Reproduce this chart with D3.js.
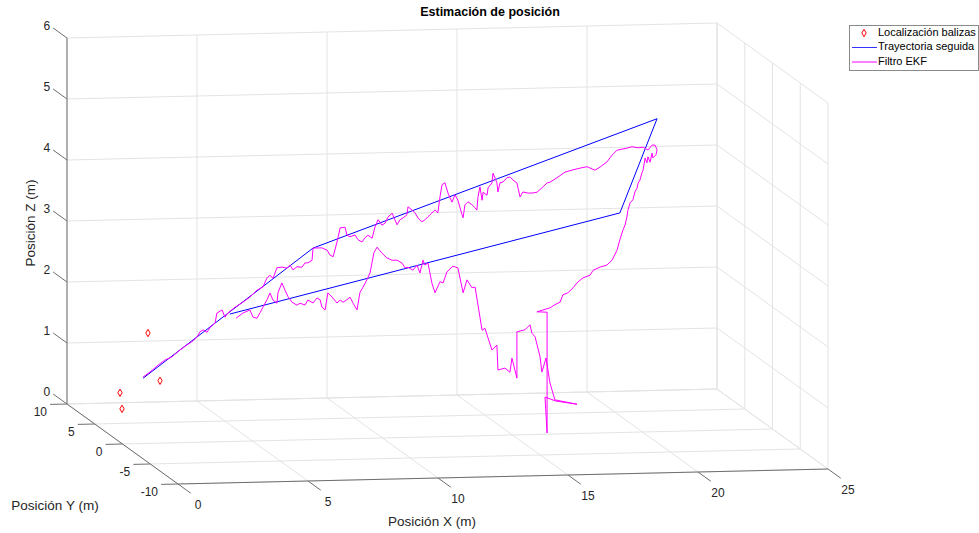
<!DOCTYPE html>
<html lang="es">
<head>
<meta charset="UTF-8">
<title>Estimación de posición</title>
<script src="https://d3js.org/d3.v7.min.js"></script>
<style>
  html, body { margin: 0; padding: 0; background: #fff; }
  #chart svg { display: block; font-family: "Liberation Sans", Arial, Helvetica, sans-serif; }
</style>
</head>
<body>
<div id="chart"></div>
<script>
// ticks of the three axes
var xTicks = [0, 5, 10, 15, 20, 25];
var yTicks = [-10, -5, 0, 5, 10];
var zTicks = [0, 1, 2, 3, 4, 5, 6];

// beacon positions (m)
var beaconX = [0, 0, 0, 0];
var beaconY = [-4.59, -6.76, 0.45, 0.09];
var beaconZ = [2.12, 1.48, 0.81, 0.57];

// followed trajectory (m)
var trajX = [0.79, 7.33, 20.56, 19.13, 4.13];
var trajY = [0, 0, 0, 0, 0];
var trajZ = [1.07, 3.14, 5.13, 3.60, 2.09];

// EKF estimate (m), y taken in the plane of the trajectory
var ekfPlaneY = 0;
var ekfX = [0.79,1.06,1.37,1.63,1.90,2.21,2.48,2.67,2.87,2.98,
  3.10,3.25,3.37,3.56,3.63,3.83,3.94,4.06,4.33,4.60,
  4.90,5.17,5.40,5.56,5.67,5.79,5.94,6.13,6.33,6.44,
  6.56,6.71,6.90,7.02,7.13,7.29,7.33,7.48,7.67,7.87,
  7.98,8.10,8.17,8.25,8.37,8.56,8.63,8.75,8.94,9.06,
  9.21,9.33,9.44,9.60,9.71,9.83,9.98,10.10,10.21,10.37,
  10.40,10.56,10.67,10.79,10.94,10.98,11.13,11.25,11.37,11.52,
  11.63,11.75,11.90,12.02,12.13,12.21,12.29,12.40,12.52,12.67,
  12.79,12.90,13.06,13.10,13.17,13.29,13.44,13.56,13.63,13.67,
  13.75,13.83,13.87,14.02,14.06,14.21,14.25,14.40,14.44,14.52,
  14.63,14.79,14.90,15.02,15.17,15.29,15.40,15.60,15.79,15.94,
  16.13,16.33,16.44,16.71,17.02,17.29,17.60,17.87,18.17,18.37,
  18.63,18.83,19.02,19.40,19.60,19.83,20.02,20.21,20.37,20.48,
  20.56,20.52,20.40,20.37,20.29,20.21,20.17,20.10,20.02,19.98,
  19.90,19.83,19.79,19.71,19.63,19.52,19.44,19.40,19.33,19.25,
  19.13,19.02,18.83,18.63,18.37,18.10,17.98,17.71,17.48,17.33,
  17.13,16.94,16.83,16.63,16.44,15.94,16.33,16.33,16.25,16.67,
  17.48,16.63,16.44,16.29,16.13,16.06,15.87,15.75,15.67,15.48,
  15.17,15.17,14.98,14.90,14.71,14.44,14.40,14.21,13.94,13.83,
  13.56,13.44,13.25,13.10,12.90,12.71,12.48,12.33,12.21,12.02,
  11.90,11.75,11.63,11.56,11.44,11.33,11.17,10.98,10.87,10.75,
  10.56,10.37,10.17,9.98,9.79,9.67,9.52,9.40,9.25,9.13,
  9.02,8.87,8.75,8.63,8.48,8.37,8.25,8.06,7.90,7.79,
  7.67,7.60,7.48,7.33,7.13,7.02,6.83,6.71,6.52,6.37,
  6.25,6.13,5.98,5.94,5.79,5.67,5.56,5.40,5.29,5.17,
  5.02,4.90,4.63,4.37];
var ekfZ = [1.09,1.17,1.28,1.36,1.41,1.52,1.60,1.65,1.73,1.81,
  1.84,1.80,1.88,1.95,2.11,2.16,2.04,2.11,2.20,2.27,
  2.36,2.47,2.52,2.67,2.71,2.66,2.83,2.84,2.82,2.87,
  2.79,2.84,2.83,2.90,2.90,2.94,3.14,3.14,3.14,3.10,
  3.02,2.99,3.10,3.23,3.46,3.47,3.34,3.31,3.34,3.26,
  3.22,3.29,3.33,3.28,3.46,3.58,3.49,3.52,3.62,3.68,
  3.65,3.49,3.57,3.60,3.65,3.78,3.73,3.68,3.59,3.53,
  3.56,3.61,3.67,3.72,3.67,3.93,4.13,4.16,3.99,3.84,
  3.96,3.87,3.63,3.58,3.79,3.84,3.79,3.74,3.70,3.91,
  4.08,3.86,3.99,3.94,4.06,4.14,4.30,4.14,3.99,4.14,
  4.15,4.22,4.23,4.18,4.13,3.90,3.98,3.96,3.96,3.97,
  4.04,4.12,4.13,4.20,4.29,4.32,4.35,4.37,4.31,4.36,
  4.44,4.55,4.63,4.66,4.68,4.66,4.67,4.62,4.70,4.70,
  4.62,4.54,4.49,4.57,4.42,4.51,4.41,4.49,4.29,4.25,
  4.13,4.08,4.00,3.94,3.81,3.76,3.64,3.53,3.40,3.32,
  3.16,2.99,2.83,2.75,2.72,2.67,2.59,2.55,2.47,2.39,
  2.31,2.28,2.16,2.12,2.07,2.01,2.00,0.02,0.61,0.54,
  0.48,0.56,0.84,1.25,1.02,1.27,1.60,1.66,1.80,1.72,
  1.69,0.93,1.26,1.03,1.10,1.07,1.48,1.40,1.76,1.73,
  2.44,2.43,2.56,2.35,2.76,2.79,2.70,2.52,2.54,2.36,
  2.52,2.85,2.82,2.90,2.69,2.82,2.74,2.79,2.78,2.86,
  2.91,2.91,2.95,3.03,3.13,3.04,2.71,2.60,2.48,2.39,
  2.11,2.22,2.32,2.28,2.24,2.28,2.23,2.33,2.40,2.12,
  2.17,2.29,2.32,2.24,2.29,2.21,2.24,2.21,2.26,2.35,
  2.46,2.58,2.42,2.25,2.30,2.42,2.31,2.19,2.10,2.01,
  2.03,2.15,2.10,2.02];

var legendLabels = ["Localización balizas", "Trayectoria seguida", "Filtro EKF"];

var width = 979, height = 533;

// orthographic view: screen position of the (0,-10,0) corner and of the three axis spans
var origin = [178, 484];
var ex = [650, -15], ey = [-111, -80], ez = [0, -366];

var xs = d3.scaleLinear().domain([0, 25]).range([0, 1]);
var ys = d3.scaleLinear().domain([-10, 10]).range([0, 1]);
var zs = d3.scaleLinear().domain([0, 6]).range([0, 1]);

function proj(x, y, z) {
    var a = xs(x), b = ys(y), c = zs(z);
    return [origin[0] + a * ex[0] + b * ey[0] + c * ez[0],
            origin[1] + a * ex[1] + b * ey[1] + c * ez[1]];
}

var svg = d3.select("#chart").append("svg")
    .attr("width", width)
    .attr("height", height);

function seg(g, p, q, color, w) {
    g.append("line")
        .attr("x1", p[0]).attr("y1", p[1])
        .attr("x2", q[0]).attr("y2", q[1])
        .attr("stroke", color)
        .attr("stroke-width", w);
}

// grid on floor, back wall and right wall
var grid = svg.append("g");
var gridColor = "#e3e3e3";
xTicks.forEach(function(t) {
    seg(grid, proj(t, -10, 0), proj(t, 10, 0), gridColor, 1);
    seg(grid, proj(t, 10, 0), proj(t, 10, 6), gridColor, 1);
});
yTicks.forEach(function(t) {
    seg(grid, proj(0, t, 0), proj(25, t, 0), gridColor, 1);
    seg(grid, proj(25, t, 0), proj(25, t, 6), gridColor, 1);
});
zTicks.forEach(function(t) {
    seg(grid, proj(0, 10, t), proj(25, 10, t), gridColor, 1);
    seg(grid, proj(25, -10, t), proj(25, 10, t), gridColor, 1);
});

// axes and ticks
var axes = svg.append("g");
var axisColor = "#6e6e6e";
seg(axes, proj(0, -10, 0), proj(25, -10, 0), axisColor, 1);
seg(axes, proj(0, -10, 0), proj(0, 10, 0), axisColor, 1);
seg(axes, proj(0, 10, 0), proj(0, 10, 6), axisColor, 1);

var tickText = "#262626";
var tickSize = 12;
xTicks.forEach(function(t) {
    var p = proj(t, -10, 0), q = proj(t, -12.3, 0);
    seg(axes, p, q, axisColor, 1);
    axes.append("text")
        .attr("x", p[0] + 20).attr("y", p[1] + 22)
        .attr("text-anchor", "middle").attr("dominant-baseline", "middle")
        .attr("font-size", tickSize).attr("fill", tickText)
        .text(t);
});
yTicks.forEach(function(t) {
    var p = proj(0, t, 0), q = proj(-0.65, t, 0);
    seg(axes, p, q, axisColor, 1);
    axes.append("text")
        .attr("x", p[0] - 20).attr("y", p[1] + 9)
        .attr("text-anchor", "end").attr("dominant-baseline", "middle")
        .attr("font-size", tickSize).attr("fill", tickText)
        .text(t);
});
zTicks.forEach(function(t) {
    var p = proj(0, 10, t), q = proj(0, 12.5, t);
    seg(axes, p, q, axisColor, 1);
    axes.append("text")
        .attr("x", q[0] - 3).attr("y", q[1] - 1)
        .attr("text-anchor", "end").attr("dominant-baseline", "middle")
        .attr("font-size", tickSize).attr("fill", tickText)
        .text(t);
});

// axis labels and title
var labelSize = 13.5;
svg.append("text")
    .attr("x", 432).attr("y", 522)
    .attr("text-anchor", "middle").attr("dominant-baseline", "middle")
    .attr("font-size", labelSize).attr("fill", tickText)
    .text("Posición X (m)");
svg.append("text")
    .attr("x", 55).attr("y", 506)
    .attr("text-anchor", "middle").attr("dominant-baseline", "middle")
    .attr("font-size", labelSize).attr("fill", tickText)
    .text("Posición Y (m)");
svg.append("text")
    .attr("transform", "translate(31,223) rotate(-90)")
    .attr("text-anchor", "middle").attr("dominant-baseline", "middle")
    .attr("font-size", labelSize).attr("fill", tickText)
    .text("Posición Z (m)");
svg.append("text")
    .attr("x", 490).attr("y", 13)
    .attr("text-anchor", "middle").attr("dominant-baseline", "middle")
    .attr("font-size", 12.5).attr("font-weight", "bold").attr("fill", "#000")
    .text("Estimación de posición");

// data
var line = d3.line();

var trajPts = trajX.map(function(x, i) { return proj(x, trajY[i], trajZ[i]); });
svg.append("path")
    .attr("d", line(trajPts))
    .attr("fill", "none")
    .attr("stroke", "#0000ff")
    .attr("stroke-width", 1);

var ekfPts = ekfX.map(function(x, i) { return proj(x, ekfPlaneY, ekfZ[i]); });
svg.append("path")
    .attr("d", line(ekfPts))
    .attr("fill", "none")
    .attr("stroke", "#ff00ff")
    .attr("stroke-width", 1)
    .attr("stroke-linejoin", "round");

var diamond = d3.symbol().type(d3.symbolDiamond).size(16);
beaconX.forEach(function(x, i) {
    var p = proj(x, beaconY[i], beaconZ[i]);
    svg.append("path")
        .attr("d", diamond())
        .attr("transform", "translate(" + p[0] + "," + p[1] + ")")
        .attr("fill", "none")
        .attr("stroke", "#ff0000")
        .attr("stroke-width", 1);
});

// legend
var lg = svg.append("g");
lg.append("rect")
    .attr("x", 849.5).attr("y", 25.5)
    .attr("width", 129).attr("height", 45)
    .attr("fill", "#fff")
    .attr("stroke", "#8a8a8a")
    .attr("stroke-width", 1);
var legendColors = ["#ff0000", "#3333ff", "#ff00ff"];
legendLabels.forEach(function(label, i) {
    var y = 33 + i * 14.5;
    if (i === 0) {
        lg.append("path")
            .attr("d", diamond())
            .attr("transform", "translate(864," + y + ")")
            .attr("fill", "none")
            .attr("stroke", legendColors[i])
            .attr("stroke-width", 1);
    } else {
        seg(lg, [852, y], [877, y], legendColors[i], 1);
    }
    lg.append("text")
        .attr("x", 878).attr("y", y)
        .attr("dominant-baseline", "middle")
        .attr("font-size", 11).attr("fill", "#000")
        .text(label);
});
</script>
</body>
</html>
